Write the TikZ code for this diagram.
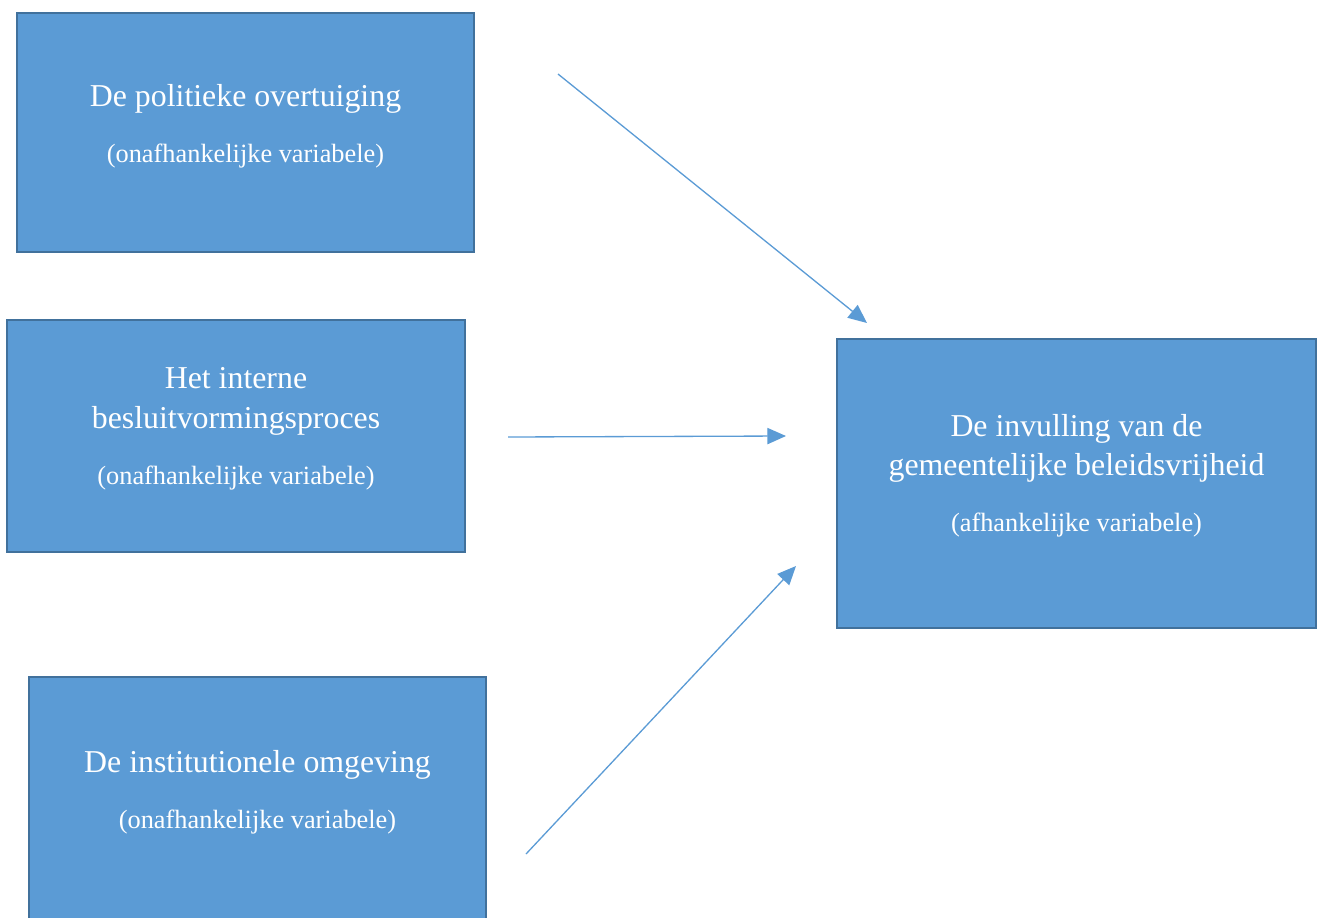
\documentclass[tikz,border=0pt]{standalone}
\usepackage{fontspec}
\setmainfont{Liberation Serif}
\usetikzlibrary{arrows.meta, positioning}
\definecolor{VarFill}  {RGB}{ 91, 155, 213}
\definecolor{VarBorder}{RGB}{ 65, 113, 156}
\definecolor{LinkBlue} {RGB}{ 91, 155, 213}
\newcommand{\vartitle}{\fontsize{14.5}{18}\selectfont}
\newcommand{\varnote}{\fontsize{12}{14}\selectfont}
\tikzset{
  % Variable box (rectangle only)
  varbox/.style={
    rectangle, fill=VarFill, draw=VarBorder, line width=0.9pt,
    inner sep=0pt
  },
  % Text inside a variable box
  vartext/.style={
    text=white, font=\vartitle, align=center, inner sep=0pt
  },
  % Arrow style
  linkarrow/.style={
    -{Triangle[length=8.5pt, width=7.4pt]}, line width=0.6pt, color=LinkBlue
  }
}

\begin{document}
\begin{tikzpicture}[x=0.016cm, y=-0.016cm]

  \useasboundingbox (0,0) rectangle (1319,918);
  \clip (0,0) rectangle (1319,918);

  % ── Independent variables ─────────────────────────────────────────────────
  \node[varbox, minimum width=7.312cm, minimum height=3.824cm] (pol)  at (245.5,132.5) {};
  \node[varbox, minimum width=7.328cm, minimum height=3.712cm] (proc) at (236,436) {};
  \node[varbox, minimum width=7.312cm, minimum height=3.888cm] (inst) at (257.5,798.5) {};

  % ── Dependent variable ────────────────────────────────────────────────────
  \node[varbox, minimum width=7.664cm, minimum height=4.624cm] (beleid) at (1076.5,483.5) {};

  % ── Box texts ─────────────────────────────────────────────────────────────
  \node[vartext] (pol_txt) at ([yshift=0.094cm]pol.center)
        {De politieke overtuiging\\[7.5pt]{\varnote (onafhankelijke variabele)}};
  \node[vartext] (proc_txt) at ([yshift=0.114cm]proc.center)
        {Het interne\\besluitvormingsproces\\[7.5pt]{\varnote (onafhankelijke variabele)}};
  \node[vartext] (inst_txt) at ([yshift=0.104cm]inst.center)
        {De institutionele omgeving\\[7.5pt]{\varnote (onafhankelijke variabele)}};
  \node[vartext] (beleid_txt) at ([yshift=0.124cm]beleid.center)
        {De invulling van de\\gemeentelijke beleidsvrijheid\\[7.5pt]{\varnote (afhankelijke variabele)}};

  % ── Arrow ends ────────────────────────────────────────────────────────────
  \coordinate (pol_out)    at (558,74);
  \coordinate (pol_in)     at (867,323);
  \coordinate (proc_out)   at (508,437);
  \coordinate (proc_in)    at (786,436);
  \coordinate (inst_out)   at (526,854);
  \coordinate (inst_in)    at (796,566);

  % ── Edges: independent → dependent ────────────────────────────────────────
  \draw[linkarrow] (pol_out)  -- (pol_in);
  \draw[linkarrow] (proc_out) -- (proc_in);
  \draw[linkarrow] (inst_out) -- (inst_in);

\end{tikzpicture}
\end{document}
